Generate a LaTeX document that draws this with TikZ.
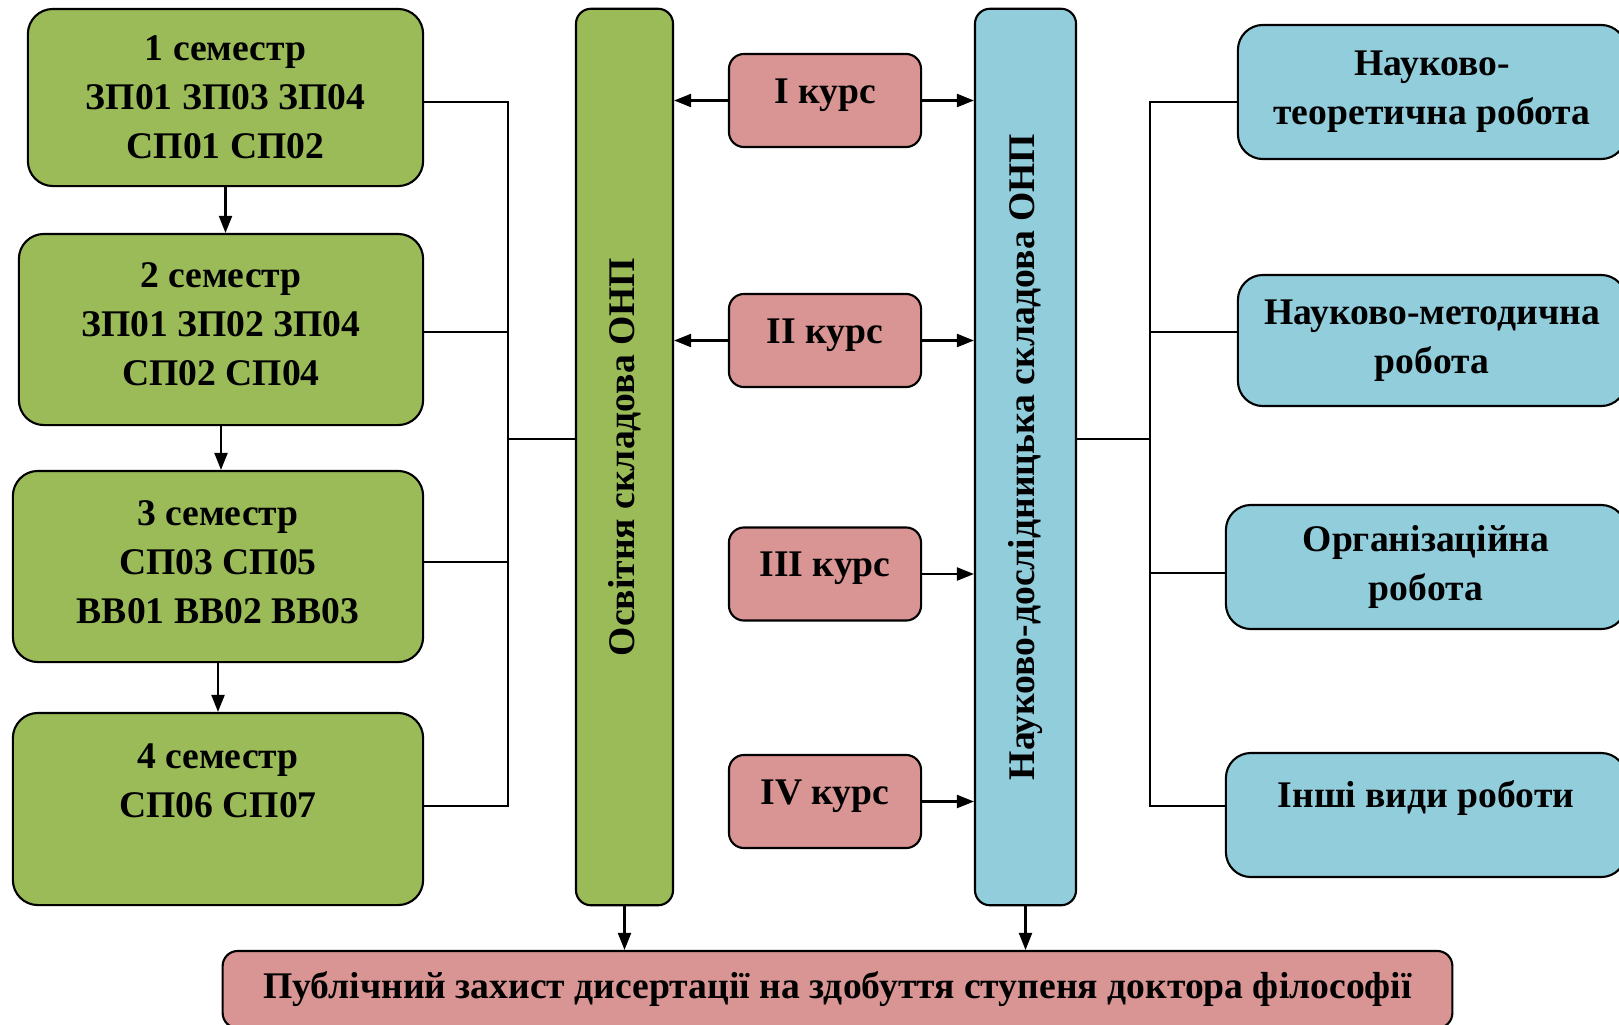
\documentclass[tikz,border=0pt]{standalone}
\usepackage{fontspec}
\setmainfont{Liberation Serif}
\usetikzlibrary{arrows.meta}
\definecolor{semgreen}{RGB}{155,187,89}
\definecolor{naukblue}{RGB}{146,205,220}
\definecolor{kurspink}{RGB}{217,149,148}
\begin{document}
\begin{tikzpicture}[x=0.01cm,y=-0.01cm,line width=0.6pt,
  font=\bfseries\fontsize{10.7}{14}\selectfont,
  sem/.style={draw,fill=semgreen,rounded corners=0.25cm,align=center,inner sep=0pt},
  bar/.style={draw,rounded corners=0.15cm,inner sep=0pt,minimum height=8.96cm},
  kurs/.style={draw,fill=kurspink,rounded corners=0.15cm,inner sep=0pt,
    minimum width=1.92cm,minimum height=0.93cm,text depth=0.19cm},
  robota/.style={draw,fill=naukblue,rounded corners=0.25cm,align=center,inner sep=0pt}]
  \useasboundingbox (0,0) rectangle (1619,1024);
  % semesters
  \node[sem,minimum width=3.95cm,minimum height=1.77cm] (s1) at (225.5,97.5)
    {1 семестр\\ЗП01 ЗП03 ЗП04\\СП01 СП02};
  \node[sem,minimum width=4.04cm,minimum height=1.91cm,text depth=0.11cm] (s2) at (221,329.5)
    {2 семестр\\ЗП01 ЗП02 ЗП04\\СП02 СП04};
  \node[sem,minimum width=4.10cm,minimum height=1.91cm,text depth=0.09cm] (s3) at (218,566.5)
    {3 семестр\\СП03 СП05\\ВВ01 ВВ02 ВВ03};
  \node[sem,minimum width=4.10cm,minimum height=1.92cm,text depth=0.57cm] (s4) at (218,809)
    {4 семестр\\СП06 СП07};
  % the two bars
  \node[bar,fill=semgreen,minimum width=0.97cm] (g) at (624.5,457) {};
  \node[rotate=90] at (g) {Освітня складова ОНП};
  \node[bar,fill=naukblue,minimum width=1.01cm] (b) at (1025.5,457) {};
  \node[rotate=90] at (b) {Науково-дослідницька складова ОНП};
  % courses
  \node[kurs] (c1) at (825,100.5) {I курс};
  \node[kurs] (c2) at (825,340.5) {II курс};
  \node[kurs] (c3) at (825,574) {III курс};
  \node[kurs] (c4) at (825,801.5) {IV курс};
  % kinds of work
  \node[robota,minimum width=3.88cm,minimum height=1.34cm] (ra) at (1432,92)
    {Науково-\\теоретична робота};
  \node[robota,minimum width=3.88cm,minimum height=1.31cm] (rb) at (1432,340.5)
    {Науково-методична\\робота};
  \node[robota,minimum width=4.00cm,minimum height=1.24cm] (rc) at (1426,567)
    {Організаційна\\робота};
  \node[robota,minimum width=4.00cm,minimum height=1.24cm,text depth=0.42cm] (rd) at (1426,815)
    {Інші види роботи};
  % defence
  \node[draw,fill=kurspink,rounded corners=0.15cm,inner sep=0pt,
    minimum width=12.29cm,minimum height=0.77cm] (p) at (837.5,989.5)
    {Публічний захист дисертації на здобуття ступеня доктора філософії};
  % brackets
  \coordinate (jl) at (508,439);
  \coordinate (jr) at (1150,439);
  \draw ([yshift=-0.045cm]s1.east) -| (jl) |- ([yshift=0.03cm]s4.east);
  \draw ([yshift=-0.025cm]s2.east) -- ++(-1,0) -| (jl)
    ([yshift=0.045cm]s3.east) -| (jl)
    (jl) -- (jl -| g.west);
  \draw ([yshift=-0.1cm]ra.west) -| (jr) |- ([yshift=0.09cm]rd.west);
  \draw ([yshift=0.085cm]rb.west) -| (jr)
    ([yshift=-0.06cm]rc.west) -| (jr)
    (jr) -- (jr -| b.east);
  % arrows
  \path[-{Stealth[length=0.17cm,width=0.13cm,inset=0pt]}]
    (s1.south) edge (s1.south |- s2.north)
    (s2.south) edge (s2.south |- s3.north)
    (s3.south) edge (s3.south |- s4.north)
    (c1.west) edge (c1.west -| g.east)
    (c2.west) edge (c2.west -| g.east)
    (c1.east) edge (c1.east -| b.west)
    (c2.east) edge (c2.east -| b.west)
    (c3.east) edge (c3.east -| b.west)
    (c4.east) edge (c4.east -| b.west)
    (g.south) edge (g.south |- p.north)
    (b.south) edge (b.south |- p.north);
\end{tikzpicture}
\end{document}
